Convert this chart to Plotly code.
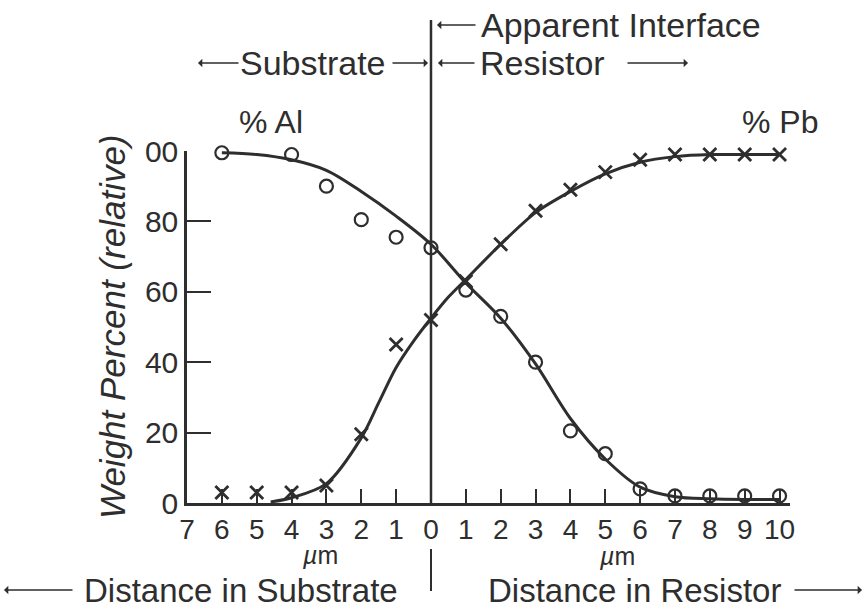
import plotly.graph_objects as go

# ---- data ----
x_pts = [-6, -5, -4, -3, -2, -1, 0, 1, 2, 3, 4, 5, 6, 7, 8, 9, 10]
al_pts = [99.5, 101, 99, 90, 80.5, 75.5, 72.5, 60.5, 53, 40, 20.5, 14, 4, 2, 2, 2, 2]
pb_pts = [3, 3, 3, 5, 19.5, 45, 52, 63, 73.5, 83, 89, 94, 97.5, 99, 99, 99, 99]

al_curve_x = [-6, -5, -4, -3, -2, -1, 0, 1, 2, 3, 4, 5, 6, 7, 8, 9, 10]
al_curve_y = [99.5, 99, 97.5, 94.5, 88.5, 81.5, 73.5, 62.5, 52.5, 39.5, 24, 12.5, 4.5, 1.8, 1.2, 1, 1]
pb_curve_x = [-4.6, -4, -3, -2, -1.5, -1, -0.5, 0, 0.5, 1, 2, 3, 4, 5, 6, 7, 8, 9, 10]
pb_curve_y = [0.3, 1.5, 5.5, 18.5, 28.5, 38.5, 46, 52.5, 58.5, 63.5, 73.5, 82.5, 88.5, 93.5, 96.8, 98.4, 99, 99, 99]

x_ticks = list(range(-7, 11))
x_tick_text = [str(abs(v)) for v in x_ticks]
y_ticks = [0, 20, 40, 60, 80, 100]
y_tick_text = ["0", "20", "40", "60", "80", "00"]

INK = "#2e2e2e"
FONT = "Liberation Sans, Arial, sans-serif"

# plot area in pixels: x 187..790, y 151..503
L, R, T, B = 187, 75, 151, 106
W, H = 865, 609
PW, PH = W - L - R, H - T - B
def px(xp):
    return (xp - L) / PW
def py(yp):
    return (H - B - yp) / PH

fig = go.Figure()
fig.add_trace(go.Scatter(x=al_curve_x, y=al_curve_y, mode="lines",
                         line=dict(color=INK, width=3, shape="spline", smoothing=0.9),
                         hoverinfo="skip", showlegend=False))
fig.add_trace(go.Scatter(x=pb_curve_x, y=pb_curve_y, mode="lines",
                         line=dict(color=INK, width=3, shape="spline", smoothing=0.9),
                         hoverinfo="skip", showlegend=False))
fig.add_trace(go.Scatter(x=x_pts, y=al_pts, mode="markers", name="% Al",
                         marker=dict(symbol="circle-open", size=13, color=INK,
                                     line=dict(width=2.2, color=INK)),
                         cliponaxis=False, showlegend=False))
fig.add_trace(go.Scatter(x=x_pts, y=pb_pts, mode="markers", name="% Pb",
                         marker=dict(symbol="x-thin-open", size=13, color=INK,
                                     line=dict(width=2.8, color=INK)),
                         cliponaxis=False, showlegend=False))

# interface line and the short mark under the axis
fig.add_shape(type="line", xref="x", yref="paper", x0=0, x1=0, y0=0, y1=py(20),
              line=dict(color=INK, width=2.5))
fig.add_shape(type="line", xref="x", yref="paper", x0=0, x1=0, y0=py(549), y1=py(591),
              line=dict(color=INK, width=2))

ann = []
def text(xp, yp, s, xanchor="center", size=34, angle=0):
    ann.append(dict(x=px(xp), y=py(yp), xref="paper", yref="paper", text=s,
                    showarrow=False, xanchor=xanchor, yanchor="middle",
                    textangle=angle,
                    font=dict(family=FONT, size=size, color=INK)))
def arrow(head, tail, yp):
    ann.append(dict(x=px(head), y=py(yp), xref="paper", yref="paper", text="",
                    showarrow=True, ax=tail - head, ay=0, arrowhead=1,
                    arrowsize=0.9, arrowwidth=1.6, arrowcolor=INK))

text(479, 25, "Apparent Interface", "left")
arrow(437, 477, 25)
text(388, 63, "Substrate", "right")
arrow(198, 240, 63)
arrow(428, 391, 63)
text(478, 63, "Resistor", "left")
arrow(438, 476, 63)
arrow(688, 626, 63)
text(271, 122, "% Al", size=32)
text(780, 122, "% Pb", size=32)
text(320, 555, "<i>µ</i>m", size=25)
text(617, 556, "<i>µ</i>m", size=25)
text(400, 590, "Distance in Substrate", "right", size=33)
arrow(4, 74, 590)
text(486, 590, "Distance in Resistor", "left", size=33)
arrow(862, 793, 590)
text(112, 327, "<i>Weight Percent (relative)</i>", size=35, angle=-90)

fig.update_layout(
    width=W, height=H,
    margin=dict(l=L, r=R, t=T, b=B),
    paper_bgcolor="white", plot_bgcolor="white",
    annotations=ann,
    font=dict(family=FONT, color=INK),
    xaxis=dict(range=[-7, 10.3], tickvals=x_ticks, ticktext=x_tick_text,
               showline=True, linecolor=INK, linewidth=2.5,
               ticks="inside", ticklen=14, tickwidth=2, tickcolor=INK,
               showgrid=False, zeroline=False, automargin=False,
               tickfont=dict(family=FONT, size=28, color=INK)),
    yaxis=dict(range=[0, 100], tickvals=y_ticks, ticktext=y_tick_text,
               showline=True, linecolor=INK, linewidth=2.5,
               ticks="inside", ticklen=24, tickwidth=2, tickcolor=INK,
               showgrid=False, zeroline=False, automargin=False,
               tickfont=dict(family=FONT, size=30, color=INK)),
)

fig.write_html("out.html", config={"displayModeBar": False},
               post_script="document.body.style.margin='0';document.body.style.overflow='hidden';")
